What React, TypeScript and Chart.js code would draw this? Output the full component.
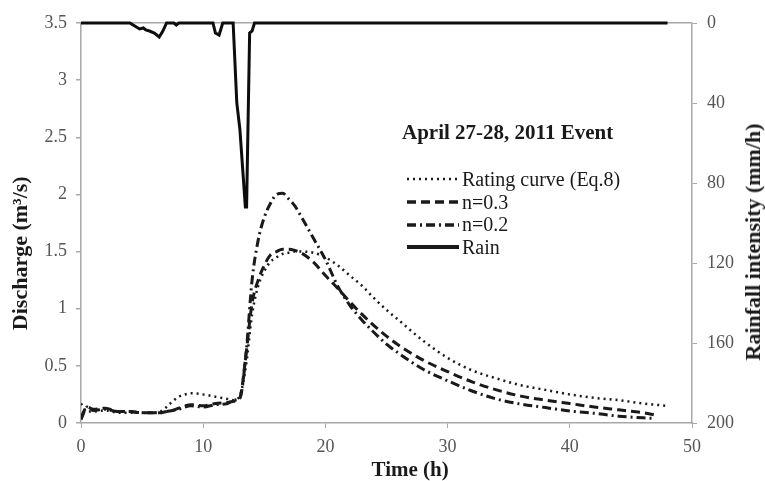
import React, { useEffect, useRef } from 'react';
import { Chart, registerables } from 'chart.js';

Chart.register(...registerables);

// ---- Data ----
const timeH = [0, 0.5, 1, 2, 3, 4, 5, 6, 6.5, 7, 7.5, 8, 8.5, 9, 10, 11, 12, 12.5, 13, 13.5, 14, 14.5, 15, 15.5, 16, 16.5, 17, 17.5, 18, 19, 20, 21, 22, 23, 24, 25, 26, 28, 30, 32, 34, 36, 38, 40, 42, 44, 46, 47, 48];

const ratingCurveQ = [0.17, 0.1, 0.1, 0.11, 0.09, 0.09, 0.09, 0.09, 0.1, 0.14, 0.19, 0.23, 0.25, 0.26, 0.25, 0.23, 0.21, 0.2, 0.24, 0.5, 0.95, 1.2, 1.33, 1.41, 1.45, 1.48, 1.49, 1.5, 1.5, 1.49, 1.45, 1.38, 1.29, 1.2, 1.09, 0.99, 0.9, 0.72, 0.57, 0.46, 0.39, 0.33, 0.29, 0.25, 0.22, 0.2, 0.17, 0.16, 0.15];

const n03Q = [0.05, 0.14, 0.12, 0.13, 0.1, 0.1, 0.09, 0.09, 0.09, 0.1, 0.11, 0.13, 0.15, 0.16, 0.15, 0.17, 0.18, 0.19, 0.22, 0.6, 1.05, 1.25, 1.38, 1.47, 1.5, 1.52, 1.52, 1.51, 1.49, 1.41, 1.29, 1.18, 1.06, 0.95, 0.85, 0.76, 0.68, 0.55, 0.45, 0.36, 0.29, 0.235, 0.2, 0.17, 0.14, 0.115, 0.09, 0.07, null];

const n02Q = [0.03, 0.14, 0.11, 0.12, 0.1, 0.1, 0.09, 0.09, 0.09, 0.1, 0.11, 0.12, 0.14, 0.15, 0.14, 0.16, 0.17, 0.2, 0.22, 0.6, 1.25, 1.6, 1.8, 1.92, 2.0, 2.01, 1.96, 1.9, 1.81, 1.62, 1.43, 1.2, 1.03, 0.9, 0.79, 0.69, 0.61, 0.47, 0.37, 0.28, 0.21, 0.165, 0.135, 0.105, 0.085, 0.06, 0.045, 0.04, null];

const rainTime = [0, 4.0, 4.4, 4.8, 5.1, 5.3, 5.6, 6.0, 6.4, 6.7, 7.0, 7.6, 7.8, 8.0, 10.8, 11.0, 11.3, 11.6, 12.45, 12.75, 13.0, 13.45, 13.55, 13.8, 14.0, 14.2, 48];
const rainIntensity = [0, 0, 1.5, 3, 2.5, 3.5, 4, 5, 7, 4, 0, 0, 1, 0, 0, 5, 6, 0, 0, 40, 53, 92, 92, 5, 4, 0, 0];

const legendTitle = 'April 27-28, 2011 Event';
const seriesNames = ['Rating curve (Eq.8)', 'n=0.3', 'n=0.2', 'Rain'];

const xTitle = 'Time (h)';
const yTitle = 'Discharge (m³/s)';
const y2Title = 'Rainfall intensity (mm/h)';

// ---- Styles ----
const FONT = "'Liberation Serif', 'Times New Roman', serif";
const AXIS = '#a8a8a8';
const TICK = '#555555';
const INK = '#1a1a1a';

const dashes: Record<string, number[]> = {
  rating: [2, 4],
  n03: [9, 5],
  n02: [9, 4, 2, 4],
  rain: [],
};

function pts(xs: number[], ys: (number | null)[]) {
  return xs.map((x, i) => ({ x, y: ys[i] }));
}

export default function App() {
  const ref = useRef<HTMLCanvasElement | null>(null);

  useEffect(() => {
    if (!ref.current) return;
    const chart = new Chart(ref.current, {
      type: 'line',
      data: {
        datasets: [
          {
            label: seriesNames[3],
            data: pts(rainTime, rainIntensity),
            yAxisID: 'y2',
            borderColor: '#0d0d0d',
            borderWidth: 3,
            pointRadius: 0,
            tension: 0,
            clip: 6,
          } as any,
          {
            label: seriesNames[0],
            data: pts(timeH, ratingCurveQ),
            yAxisID: 'y',
            borderColor: INK,
            borderWidth: 2.5,
            borderDash: dashes.rating,
            pointRadius: 0,
            cubicInterpolationMode: 'monotone',
            spanGaps: false,
          },
          {
            label: seriesNames[1],
            data: pts(timeH, n03Q),
            yAxisID: 'y',
            borderColor: INK,
            borderWidth: 3,
            borderDash: dashes.n03,
            pointRadius: 0,
            cubicInterpolationMode: 'monotone',
            spanGaps: false,
          },
          {
            label: seriesNames[2],
            data: pts(timeH, n02Q),
            yAxisID: 'y',
            borderColor: INK,
            borderWidth: 3,
            borderDash: dashes.n02,
            pointRadius: 0,
            cubicInterpolationMode: 'monotone',
            spanGaps: false,
          },
        ],
      },
      options: {
        animation: false,
        responsive: false,
        events: [],
        layout: { padding: { top: 23, left: 0, right: 0, bottom: 0 } },
        plugins: { legend: { display: false }, tooltip: { enabled: false } },
        scales: {
          x: {
            type: 'linear',
            min: 0,
            max: 50,
            ticks: { stepSize: 10, padding: 8, color: TICK, font: { family: FONT, size: 18 } },
            grid: { color: 'transparent', tickColor: AXIS, tickLength: 5, drawTicks: true },
            border: { color: AXIS, width: 1.5 },
            title: {
              display: true,
              text: '\u00a0\u00a0\u00a0\u00a0\u00a0\u00a0\u00a0\u00a0\u00a0' + xTitle,
              color: INK,
              font: { family: FONT, size: 21, weight: 'bold', lineHeight: 1 },
              padding: { top: 0, bottom: 0 },
            },
            afterFit: (s: any) => {
              s.height = 58;
            },
          },
          y: {
            type: 'linear',
            position: 'left',
            min: 0,
            max: 3.5,
            ticks: {
              stepSize: 0.5,
              padding: 9,
              color: TICK,
              font: { family: FONT, size: 18 },
              callback: (v: any) => String(Math.round(Number(v) * 10) / 10),
            },
            grid: {
              color: (ctx: any) => (ctx.tick && ctx.tick.value === 3.5 ? AXIS : 'transparent'),
              lineWidth: 1.5,
              tickColor: AXIS,
              tickLength: 5,
            },
            border: { color: AXIS, width: 1.5 },
            title: {
              display: true,
              text: yTitle + '\u00a0\u00a0\u00a0\u00a0\u00a0\u00a0\u00a0\u00a0\u00a0\u00a0\u00a0',
              color: INK,
              font: { family: FONT, size: 22, weight: 'bold', lineHeight: 1 },
              padding: { top: 10, bottom: 0 },
            },
            afterFit: (s: any) => {
              s.width = 81;
            },
          },
          y2: {
            type: 'linear',
            position: 'right',
            min: 0,
            max: 200,
            reverse: true,
            ticks: { stepSize: 40, padding: 10, color: TICK, font: { family: FONT, size: 18 } },
            grid: { drawOnChartArea: false, tickColor: AXIS, tickLength: 5 },
            border: { color: AXIS, width: 1.5 },
            afterFit: (s: any) => {
              s.width = 73;
            },
          },
        },
      } as any,
    });
    return () => chart.destroy();
  }, []);

  const legendRows = [
    { name: seriesNames[0], dash: dashes.rating, w: 2.5 },
    { name: seriesNames[1], dash: dashes.n03, w: 3.5 },
    { name: seriesNames[2], dash: dashes.n02, w: 3.5 },
    { name: seriesNames[3], dash: dashes.rain, w: 4 },
  ];

  return (
    <div style={{ position: 'absolute', left: 0, top: 0, width: 765, height: 481, background: '#fff', overflow: 'hidden' }}>
      <canvas ref={ref} width={765} height={481} style={{ display: 'block', position: 'absolute', left: 0, top: 0 }} />
      <div
        style={{
          position: 'absolute',
          left: 402,
          top: 120,
          fontFamily: FONT,
          fontWeight: 'bold',
          fontSize: 21,
          lineHeight: '24px',
          color: INK,
          whiteSpace: 'nowrap',
        }}
      >
        {legendTitle}
      </div>
      <div style={{ position: 'absolute', left: 407, top: 168, fontFamily: FONT, fontSize: 20, color: INK }}>
        {legendRows.map((r) => (
          <div key={r.name} style={{ display: 'flex', alignItems: 'center', height: 22.7, lineHeight: '22.7px', whiteSpace: 'nowrap' }}>
            <svg width={52} height={8} style={{ display: 'block', marginRight: 3 }}>
              <line x1={0} y1={4} x2={52} y2={4} stroke={INK} strokeWidth={r.w} strokeDasharray={r.dash.length ? r.dash.join(' ') : undefined} />
            </svg>
            <span>{r.name}</span>
          </div>
        ))}
      </div>
      <div
        style={{
          position: 'absolute',
          left: 753,
          top: 242,
          transform: 'translate(-50%, -50%) rotate(-90deg)',
          fontFamily: FONT,
          fontWeight: 'bold',
          fontSize: 22,
          lineHeight: '24px',
          color: INK,
          whiteSpace: 'nowrap',
        }}
      >
        {y2Title}
      </div>
    </div>
  );
}
